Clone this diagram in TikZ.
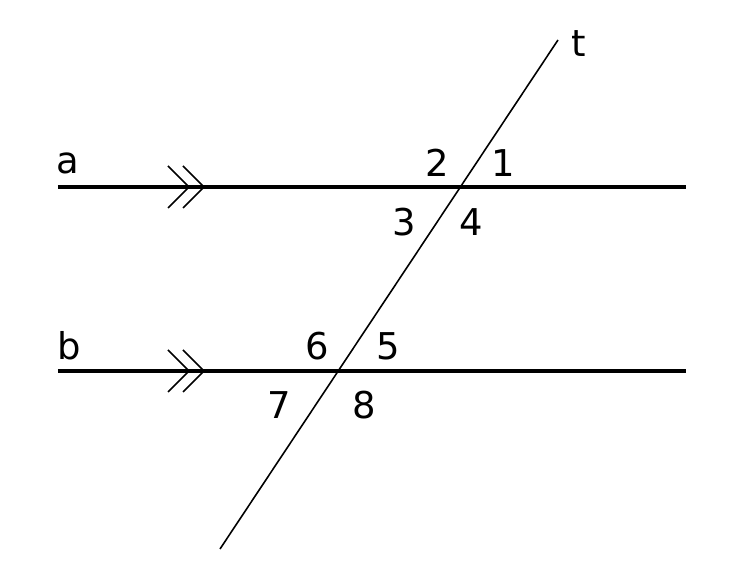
\documentclass[tikz,border=0pt]{standalone}
\usepackage{fontspec}
\setmainfont{DejaVu Sans}
\begin{document}
\begin{tikzpicture}[x=0.01cm,y=-0.01cm,
  parline/.style={line width=0.9pt},
  thinline/.style={line width=0.45pt},
  lbl/.style={font=\fontsize{10.5pt}{12pt}\selectfont, inner sep=0pt}]
\useasboundingbox (0,0) rectangle (744,585);
\coordinate (a1) at (58,187); \coordinate (a2) at (686,187);
\coordinate (b1) at (58,371); \coordinate (b2) at (686,371);
\coordinate (t1) at (220,549); \coordinate (t2) at (558,40);
\draw[parline] (a1) -- (a2);
\draw[parline] (b1) -- (b2);
\draw[thinline] (t1) -- (t2);
\foreach \y in {187,371}{
  \draw[thinline] (168,\y-21) -- (189,\y) -- (168,\y+21);
  \draw[thinline] (183,\y-21) -- (204,\y) -- (183,\y+21);
}
\node[lbl] (la) at (68,163) {a};
\node[lbl] (lb) at (69,346) {b};
\node[lbl] (lt) at (579,44) {t};
\node[lbl] (n2) at (437,163) {2};
\node[lbl] (n1) at (503,163) {1};
\node[lbl] (n3) at (404,222) {3};
\node[lbl] (n4) at (471,222) {4};
\node[lbl] (n6) at (317,346) {6};
\node[lbl] (n5) at (388,346) {5};
\node[lbl] (n7) at (279,405) {7};
\node[lbl] (n8) at (364,405) {8};
\end{tikzpicture}
\end{document}
